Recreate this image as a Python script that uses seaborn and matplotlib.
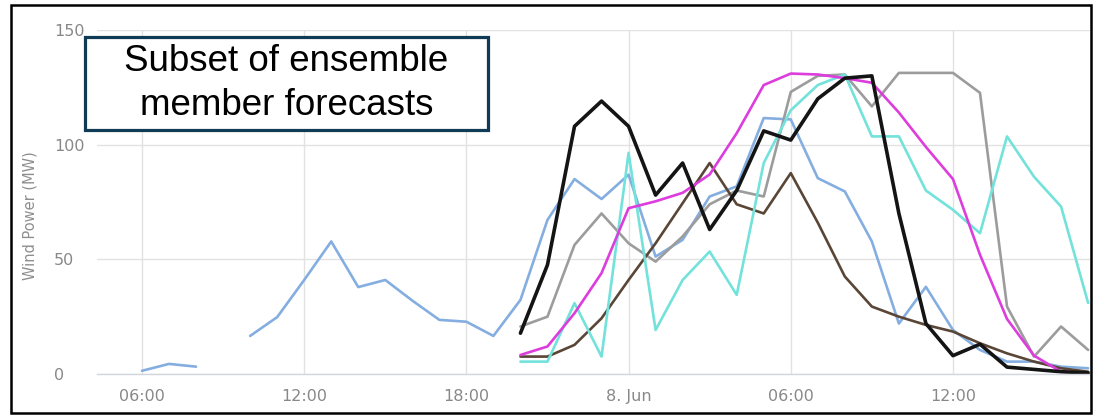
# -*- coding: utf-8 -*-
# Ensemble wind power forecasts (subset of members), hourly values in MW
import numpy as np
import pandas as pd
import matplotlib.pyplot as plt
import seaborn as sns
from matplotlib.patches import Rectangle

# ============================================================
# 1. DATA (hours counted from 00:00 on 7 June)
# ============================================================
hours_members = list(range(20, 42))
hours_blue_a = [6, 7, 8]
hours_blue_b = list(range(10, 42))

blue_a = [1.4, 4.4, 3.2]
blue_b = [16.6, 24.8, 41, 57.8, 37.9, 41, 32, 23.6, 22.8, 16.6,
          32.3, 67.2, 85, 76.3, 86.9, 51.2, 58.5, 77.4, 81.8, 111.6,
          111, 85.4, 79.6, 57.8, 22, 38, 19.2, 10.5, 5.4, 5.4, 3.2, 2.5]

gray = [20.7, 25, 56.3, 70, 57, 49, 60, 74, 80, 77.4,
        123, 130, 130.6, 116.7, 131.3, 131.3, 131.3, 122.6, 29.4, 7.6, 20.7, 10.5]
brown = [7.6, 7.6, 12.7, 24.3, 41, 57, 74.5, 92, 74, 70,
         87.6, 66, 42.5, 29.4, 25, 21.4, 18.5, 13.4, 9, 5.4, 2.5, 1]
cyan = [5.4, 5.4, 30.9, 7.6, 96.4, 19.2, 41, 53.4, 34.5, 92,
        115, 126, 130.6, 103.6, 103.6, 80, 71.6, 61.4, 103.6, 86, 73, 31]
magenta = [8.3, 12, 26.5, 44, 72.3, 75.3, 79, 87, 105, 126,
           131, 130.6, 129, 127, 114, 99, 85, 52, 24, 8, 1, 0.3]
black = [17.8, 47.6, 108, 119, 108, 78, 92, 63, 80, 106,
         102, 120, 129, 130, 70, 22, 8, 13, 3, 2, 1, 0.5]

tick_hours = [6, 12, 18, 24, 30, 36]
tick_labels = ['06:00', '12:00', '18:00', '8. Jun', '06:00', '12:00']
y_ticks = [0, 50, 100, 150]

# ============================================================
# 2. FIGURE
# ============================================================
sns.set_style('white')
plt.rcParams['font.family'] = ['DejaVu Sans']

W, H = 1095, 418
fig = plt.figure(figsize=(W / 100, H / 100), dpi=100)
ax = fig.add_axes([97 / W, 44 / H, 993 / W, 344 / H])

grid_c = '#e2e2e2'
members = [
    (hours_blue_a, blue_a, '#85aee0', 1.9),
    (hours_blue_b, blue_b, '#85aee0', 1.9),
    (hours_members, gray, '#9c9c9c', 1.9),
    (hours_members, brown, '#5a4636', 1.9),
    (hours_members, cyan, '#72e2db', 1.9),
    (hours_members, magenta, '#dc3ddc', 1.9),
    (hours_members, black, '#141414', 2.6),
]
for xs, ys, col, lw in members:
    sns.lineplot(x=xs, y=ys, ax=ax, color=col, linewidth=lw)
for ln in ax.lines:
    ln.set_clip_on(False)

ax.set_xlim(4.335, 41.07)
ax.set_ylim(0, 150)
ax.set_xticks(tick_hours)
ax.set_xticklabels(tick_labels)
ax.set_yticks(y_ticks)

ax.grid(True, color=grid_c, lw=1.0)
ax.set_axisbelow(True)
for s in ['top', 'right', 'left']:
    ax.spines[s].set_visible(False)
ax.spines['bottom'].set_color('#d2d6de')
ax.spines['bottom'].set_linewidth(1.0)

ax.tick_params(axis='x', length=7, width=1, color='#d2d6de',
               labelsize=11.5, labelcolor='#888888', pad=4)
ax.tick_params(axis='y', length=0, labelsize=11.5, labelcolor='#888888', pad=31)
for lbl in ax.get_yticklabels():
    lbl.set_horizontalalignment('left')

ax.set_ylabel('Wind Power (MW)', fontsize=10.5, color='#8e8e8e')
ax.yaxis.set_label_coords(-0.06, 0.46)

# ============================================================
# 3. TITLE BOX AND OUTER FRAME
# ============================================================
fig.patches.append(Rectangle((85 / W, (H - 130) / H), 403 / W, 93 / H,
                             transform=fig.transFigure, facecolor='white',
                             edgecolor='#0f3b55', linewidth=2.3, zorder=5))
fig.text(286.5 / W, (H - 83.5) / H, 'Subset of ensemble\nmember forecasts',
         ha='center', va='center', fontsize=26.5, family='Liberation Sans',
         color='black', linespacing=1.3, zorder=6)

fig.patches.append(Rectangle((11 / W, 5 / H), 1080 / W, 408 / H,
                             transform=fig.transFigure, fill=False,
                             edgecolor='black', linewidth=1.8, zorder=10))

plt.savefig('out.png', dpi=100)
plt.close()
